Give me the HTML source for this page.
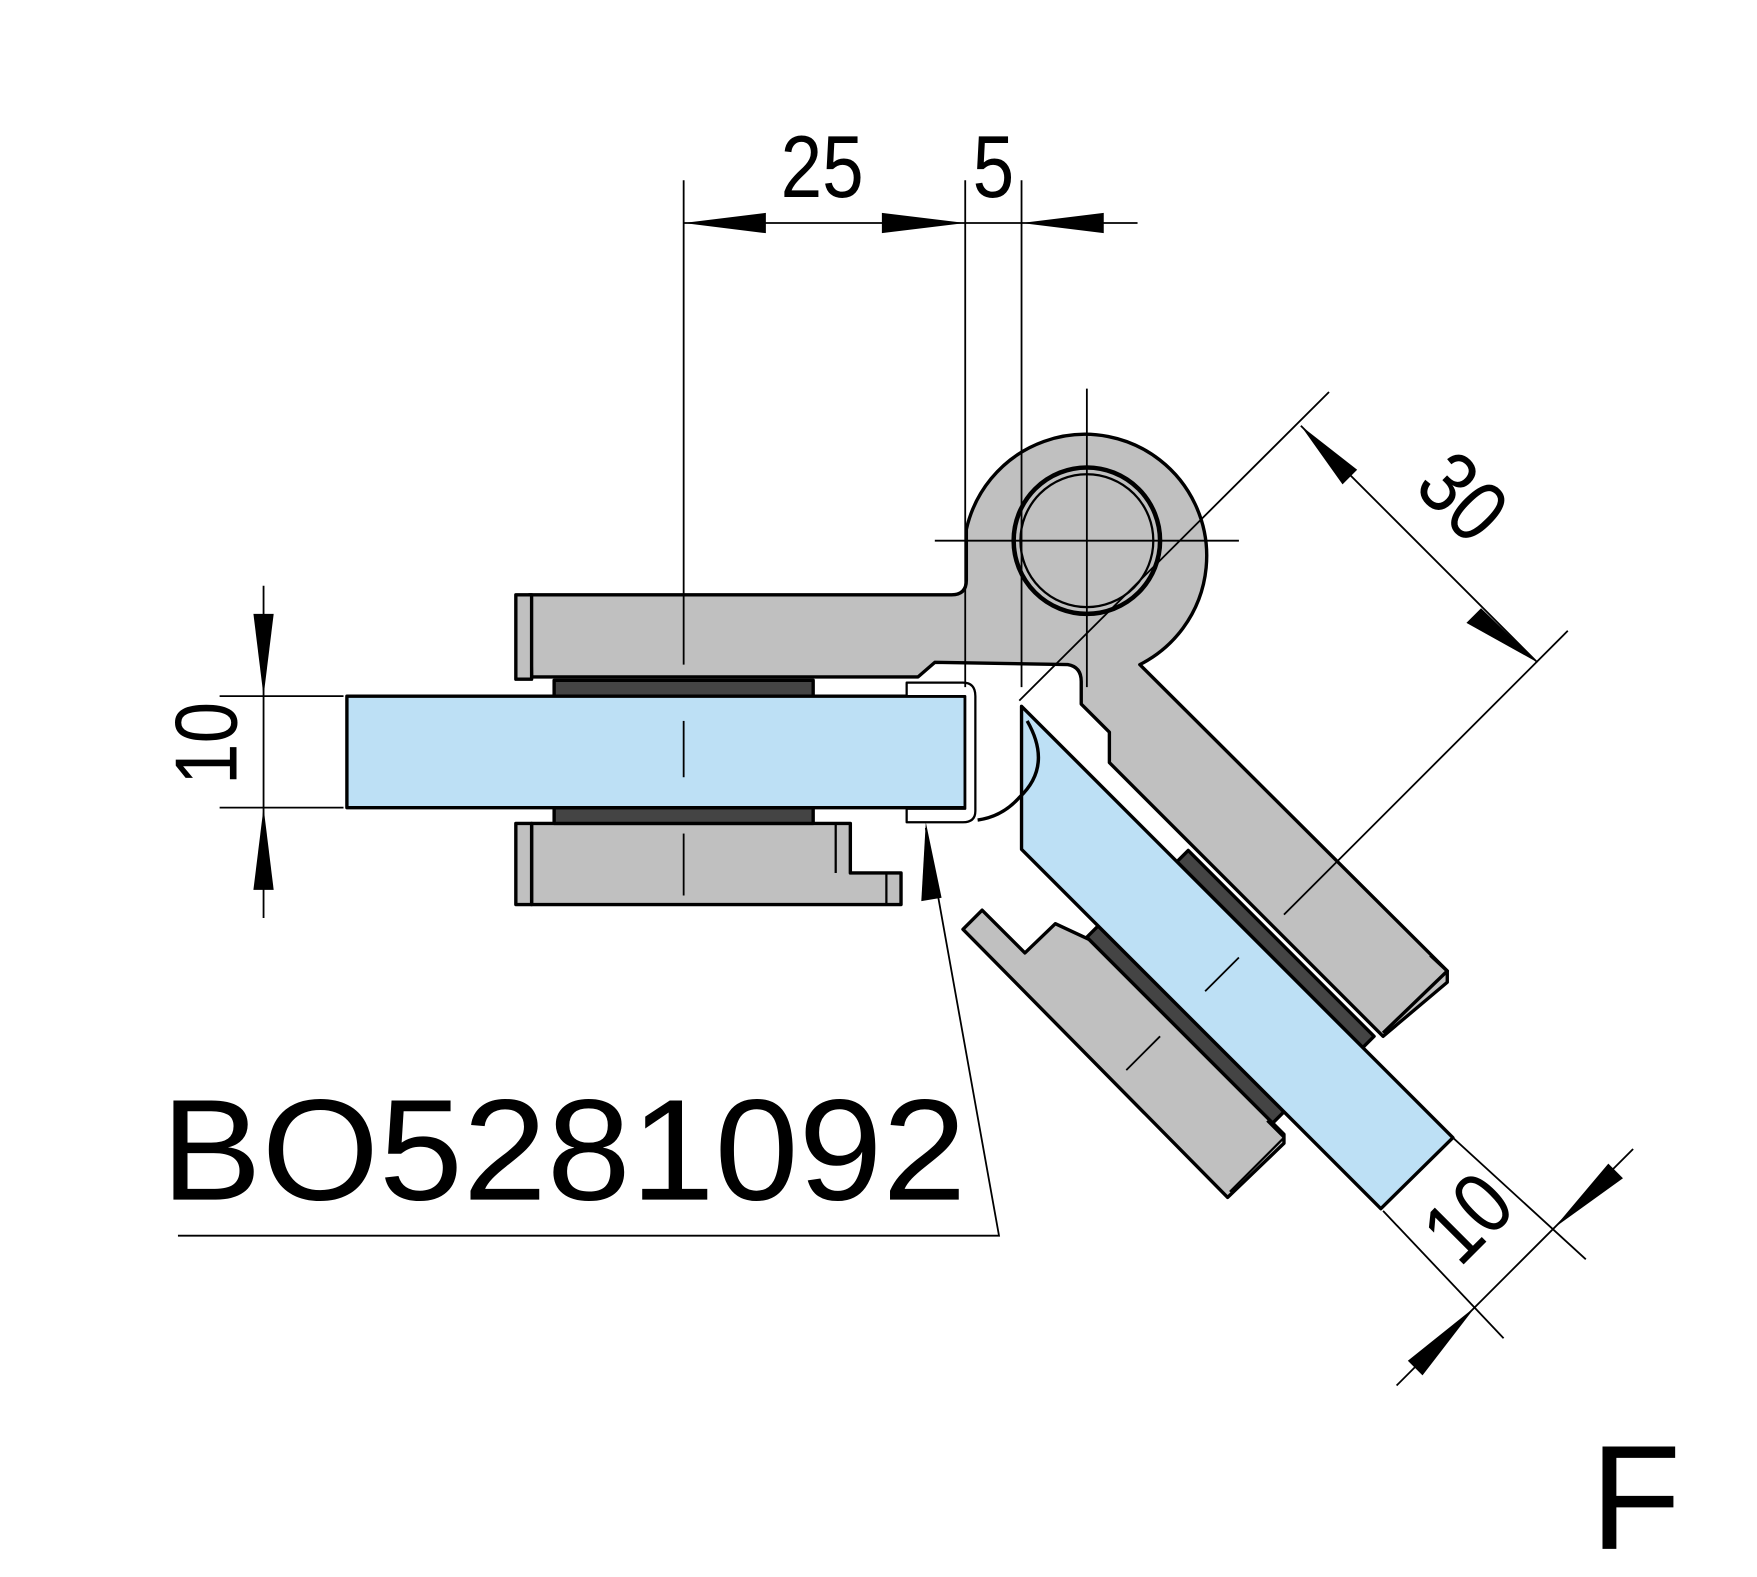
<!DOCTYPE html>
<html><head><meta charset="utf-8"><style>
html,body{margin:0;padding:0;background:#fff;}
svg{display:block;}
text{font-family:"Liberation Sans",sans-serif;fill:#000;}
</style></head><body>
<svg width="1757" height="1577" viewBox="0 0 1560 1400" preserveAspectRatio="none" xmlns="http://www.w3.org/2000/svg">
<g stroke="#000" stroke-width="3" stroke-linejoin="round">
<!-- pivot body + top bracket + arm -->
<path d="M470,528 L845,528 Q858,528 858,515 L858,470 A108,108 0 1 1 1012,590 L1285,862 L1285,872 L1228,920 L1215,907 L985,677 L985,650 L960,625 L960,605 Q960,592 948,590 L830,588 L815,601 L472,601 Z" fill="#c0c0c0"/>
<rect x="458" y="528" width="14" height="75" fill="#c0c0c0"/>
<path d="M1270,848 L1285,862 L1228,917" fill="none"/>
<!-- pivot circles -->
<circle cx="965" cy="480" r="65" fill="#c0c0c0" stroke-width="4"/>
<circle cx="965" cy="480" r="59" fill="none" stroke-width="2"/>
<!-- lower bracket -->
<path d="M472,731 L755,731 L755,775 L800,775 L800,803 L472,803 Z" fill="#c0c0c0"/>
<rect x="458" y="731" width="14" height="72" fill="#c0c0c0"/>
<line x1="742" y1="731" x2="742" y2="775" stroke-width="2"/>
<line x1="787" y1="775" x2="787" y2="803" stroke-width="2"/>
<!-- gaskets left -->
<rect x="492" y="604" width="230" height="14" fill="#444"/>
<rect x="492" y="717" width="230" height="14" fill="#444"/>
<!-- glass left -->
<rect x="308" y="618" width="549" height="99" fill="#bde0f5"/>
<!-- lower diagonal plate -->
<path d="M855,825 L872,808 L910,846 L937,820 L967,834 L1140,1007 L1140,1015 L1090,1063 Z" fill="#c0c0c0"/>
<path d="M1125,995 L1140,1010 L1092,1058" fill="none" stroke-width="2"/>
<!-- gaskets diagonal -->
<path d="M1045,765 L1210,930 L1220,920 L1055,755 Z" fill="#444"/>
<path d="M975,822 L1140,987 L1130,997 L965,832 Z" fill="#444"/>
<!-- glass diagonal -->
<path d="M907,627 L1290,1010 L1226,1073 L907,754 Z" fill="#bde0f5"/>
<!-- clip -->
<path d="M805,606 L855,606 Q866,606 866,618 L866,720 Q866,730 855,730 L805,730 L805,718 L857,718 L857,618 L805,618 Z" fill="#fff" stroke-width="2"/>
<path d="M912,640 Q935,680 905,708 Q890,725 868,728" fill="none" stroke-width="3"/>
</g>
<g stroke="#000" stroke-width="1.6" fill="none">
<line x1="607" y1="160" x2="607" y2="590"/>
<line x1="857" y1="160" x2="857" y2="610"/>
<line x1="907" y1="160" x2="907" y2="610"/>
<line x1="607" y1="198" x2="1010" y2="198"/>
<line x1="607" y1="640" x2="607" y2="690"/>
<line x1="607" y1="740" x2="607" y2="795"/>
<line x1="965" y1="345" x2="965" y2="610"/>
<line x1="830" y1="480" x2="1100" y2="480"/>
<line x1="1070" y1="880" x2="1100" y2="850"/>
<line x1="1000" y1="950" x2="1030" y2="920"/>
<line x1="1180" y1="348" x2="905" y2="622"/>
<line x1="1392" y1="560" x2="1140" y2="812"/>
<line x1="1155" y1="378" x2="1365" y2="588"/>
<line x1="1228" y1="1075" x2="1335" y2="1188"/>
<line x1="1290" y1="1010" x2="1408" y2="1118"/>
<line x1="1240" y1="1230" x2="1450" y2="1020"/>
<line x1="195" y1="618" x2="305" y2="618"/>
<line x1="195" y1="717" x2="305" y2="717"/>
<line x1="234" y1="520" x2="234" y2="815"/>
<polyline points="158,1097 887,1097 822,735"/>
</g>
<g fill="#000">
<polygon points="607,198 680,189 680,207"/>
<polygon points="857,198 783,189 783,207"/>
<polygon points="907,198 980,189 980,207"/>
<polygon points="1155,378 1192,430 1205,417"/>
<polygon points="1365,588 1315,540 1302,553"/>
<polygon points="1380,1090 1428,1033 1441,1046"/>
<polygon points="1310,1160 1250,1208 1263,1221"/>
<polygon points="234,618 225,545 243,545"/>
<polygon points="234,717 225,790 243,790"/>
<polygon points="822,730 818,800 836,797"/>
</g>
<text x="730" y="175" font-size="78" text-anchor="middle" transform="translate(730,0) scale(0.85,1) translate(-730,0)">25</text>
<text x="882" y="175" font-size="78" text-anchor="middle" transform="translate(882,0) scale(0.85,1) translate(-882,0)">5</text>
<text font-size="78" text-anchor="middle" transform="translate(1280,460) rotate(45) scale(0.85,1)">30</text>
<text font-size="78" text-anchor="middle" transform="translate(1322,1100) rotate(-45) scale(0.85,1)">10</text>
<text font-size="78" text-anchor="middle" transform="translate(210,660) rotate(-90) scale(0.85,1)">10</text>
<text x="143" y="1065" font-size="128" textLength="715" lengthAdjust="spacingAndGlyphs">BO5281092</text>
<text x="1412" y="1375" font-size="132">F</text>
</svg>
</body></html>
